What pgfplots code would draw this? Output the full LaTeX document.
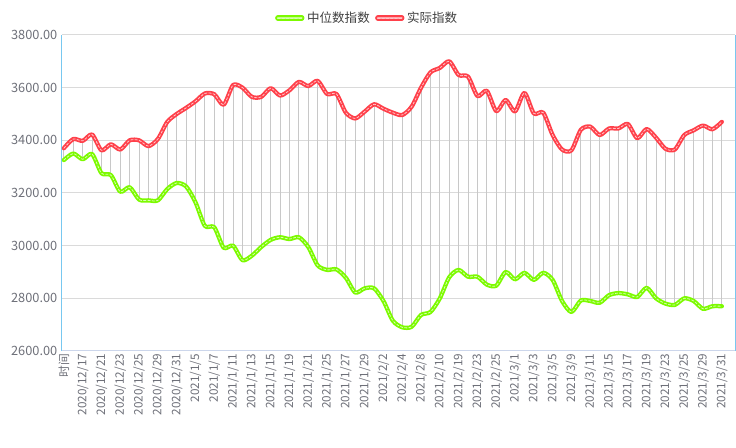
\documentclass[border=0pt]{standalone}
\usepackage{pgfplots}
\pgfplotsset{compat=1.18}
\usepackage{pgfplotstable}
\usepackage{fontspec}
\setmainfont{Noto Sans CJK SC}
\definecolor{redl}{RGB}{255,64,74}
\definecolor{greenl}{RGB}{124,250,0}
\definecolor{gridc}{RGB}{218,218,218}
\definecolor{vgray}{RGB}{200,200,200}
\definecolor{tickc}{RGB}{110,112,121}
\definecolor{blueax}{RGB}{120,200,240}
\definecolor{botax}{RGB}{204,214,235}
\pgfplotstableread{
x lo hi
0 3325 3370
1 3350 3405
2 3328 3398
3 3348 3422
4 3275 3362
5 3268 3385
6 3205 3365
7 3222 3400
8 3175 3400
9 3172 3378
10 3172 3405
11 3215 3470
12 3238 3500
13 3225 3523
14 3165 3548
15 3075 3578
16 3070 3575
17 2992 3535
18 3000 3610
19 2945 3600
20 2962 3565
21 2995 3565
22 3022 3598
23 3032 3570
24 3025 3590
25 3032 3622
26 2995 3606
27 2925 3626
28 2908 3576
29 2910 3576
30 2878 3505
31 2822 3483
32 2838 3509
33 2838 3537
34 2790 3520
35 2715 3505
36 2690 3496
37 2692 3528
38 2737 3600
39 2748 3658
40 2800 3675
41 2880 3700
42 2908 3648
43 2882 3642
44 2882 3568
45 2852 3588
46 2848 3511
47 2900 3553
48 2872 3510
49 2897 3580
50 2870 3502
51 2897 3505
52 2870 3420
53 2790 3365
54 2748 3362
55 2792 3440
56 2790 3452
57 2783 3420
58 2812 3445
59 2820 3445
60 2815 3462
61 2805 3408
62 2840 3443
63 2800 3410
64 2780 3368
65 2775 3365
66 2800 3420
67 2790 3438
68 2760 3456
69 2770 3442
70 2770 3470
}\data
\begin{document}
\begin{tikzpicture}
\begin{axis}[
  at={(0,0)}, anchor=south west,
  scale only axis,
  width=504.75pt, height=237pt,
  xmin=-0.2, xmax=71.4,
  ymin=2600, ymax=3800,
  ytick={2600,2800,...,3800},
  xtick={0,2,...,70},
  xticklabels={时间,2020/12/17,2020/12/21,2020/12/23,2020/12/25,2020/12/29,2020/12/31,2021/1/5,2021/1/7,2021/1/11,2021/1/13,2021/1/15,2021/1/19,2021/1/21,2021/1/25,2021/1/27,2021/1/29,2021/2/2,2021/2/4,2021/2/8,2021/2/10,2021/2/19,2021/2/23,2021/2/25,2021/3/1,2021/3/3,2021/3/5,2021/3/9,2021/3/11,2021/3/15,2021/3/17,2021/3/19,2021/3/23,2021/3/25,2021/3/29,2021/3/31},
  x tick label style={rotate=90, anchor=east, font=\fontsize{8.8}{9}\selectfont, text=tickc, inner sep=2pt},
  y tick label style={font=\fontsize{9.6}{10}\selectfont, text=tickc},
  /pgf/number format/assume math mode=true,
  yticklabel style={/pgf/number format/.cd, fixed, fixed zerofill, precision=2, 1000 sep={}},
  major tick length=0pt,
  ymajorgrids, grid style={gridc, line width=0.75pt},
  axis line style={draw=none},
  legend style={at={(0.454,1.054)}, anchor=center, draw=none, fill=none,
    legend columns=2, font=\fontsize{9.4}{10}\selectfont, text=black!75,
    /tikz/every even column/.append style={column sep=2pt}},
  legend cell align=left,
  clip=false,
]
\draw[botax, line width=0.75pt] (rel axis cs:0,0) -- (rel axis cs:1,0);
\draw[blueax, line width=0.75pt] (rel axis cs:0,0) -- (rel axis cs:0,1);
\draw[blueax, line width=0.75pt] (rel axis cs:1,0) -- (rel axis cs:1,1);
\addplot[forget plot, draw=none, mark=none,
  error bars/.cd, y dir=plus, y explicit, error mark=none,
  error bar style={draw=vgray, line width=0.8pt, solid}]
  table[x=x, y=lo, y error expr=\thisrow{hi}-\thisrow{lo}] {\data};
\addplot[greenl, line width=3.2pt, smooth, tension=0.45, mark=none, line cap=round, line join=round,
  postaction={draw=white!70!greenl, line width=0.6pt, dash pattern=on 1.8pt off 1.4pt},
  legend image code/.code={\draw[greenl, line width=4pt, line cap=round] (0pt,0pt) -- (18pt,0pt);
     \draw[white!55!greenl, line width=1.2pt] (0pt,0pt) -- (18pt,0pt);}]
  table[x=x, y=lo] {\data};
\addlegendentry{中位数指数}
\addplot[redl, line width=3.2pt, smooth, tension=0.45, mark=none, line cap=round, line join=round,
  postaction={draw=white!70!redl, line width=0.6pt, dash pattern=on 1.8pt off 1.4pt},
  legend image code/.code={\draw[redl, line width=4pt, line cap=round] (0pt,0pt) -- (18pt,0pt);
     \draw[white!55!redl, line width=1.2pt] (0pt,0pt) -- (18pt,0pt);}]
  table[x=x, y=hi] {\data};
\addlegendentry{实际指数}
\end{axis}
\pgfresetboundingbox
\path[use as bounding box] (-46.5pt,-72.75pt) rectangle (505.5pt,263.25pt);
\end{tikzpicture}
\end{document}
